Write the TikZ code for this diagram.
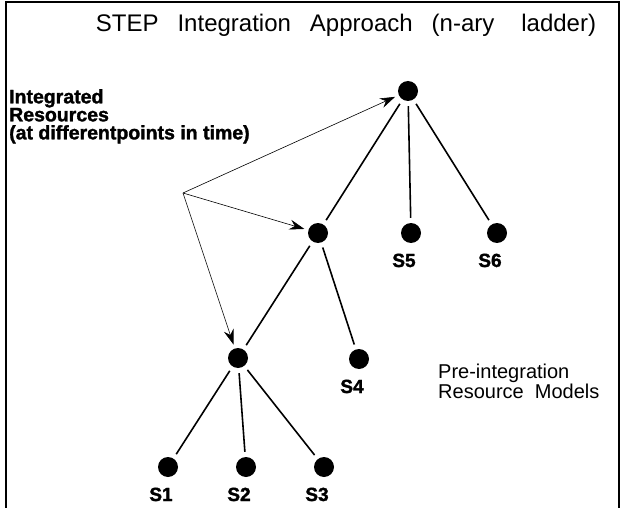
\documentclass[tikz,border=0pt]{standalone}
\usepackage{fontspec}
\setmainfont{Liberation Sans}
\newfontfamily\heavyfont[BoldFeatures={FakeBold=1.6}]{Liberation Sans}
\usetikzlibrary{arrows.meta}

\tikzset{
    dot/.style={circle, fill=black, inner sep=0pt, minimum size=20pt},
    branch/.style={line width=1.6pt, shorten <=5pt, shorten >=5pt},
    pointer/.style={line width=0.6pt, -{Stealth[length=15pt, width=10pt, inset=5pt]}, shorten >=4pt},
    slabel/.style={font=\heavyfont\bfseries\fontsize{19}{19}\selectfont, xshift=-7pt, label distance=7pt},
}
\newcommand{\gap}[1]{\hspace*{#1pt}}

\begin{document}
\begin{tikzpicture}[x=1pt, y=-1pt]
        \useasboundingbox (0,0) rectangle (624,508);
        \draw[line width=1.4pt] (6,508) -- (6,2) -- (619,2) -- (619,508);

        \node (title) at (346,25) {\fontsize{24}{24}\selectfont STEP\gap{19}Integration\gap{19}Approach\gap{19}(n-ary\gap{27}ladder)};

        % integrated resources
        \node (top) [dot] at (408,91) {};
        \node (mid) [dot] at (318,233) {};
        \node (low) [dot] at (238,358) {};

        % pre-integration models
        \node (s1) [dot, label={[slabel]below:S1}] at (168,467) {};
        \node (s2) [dot, label={[slabel]below:S2}] at (246,467) {};
        \node (s3) [dot, label={[slabel]below:S3}] at (324,467) {};
        \node (s4) [dot, label={[slabel]below:S4}] at (359,359) {};
        \node (s5) [dot, label={[slabel]below:S5}] at (411,233) {};
        \node (s6) [dot, label={[slabel]below:S6}] at (497,233) {};

        \draw[branch] (top) -- (mid);
        \draw[branch] (top) -- (s5);
        \draw[branch] (top) -- (s6);
        \draw[branch] (mid) -- (low);
        \draw[branch] (mid) -- (s4);
        \draw[branch] (low) -- (s1);
        \draw[branch] (low) -- (s2);
        \draw[branch] (low) -- (s3);

        \node (intlabel) [anchor=north west, align=left, font=\heavyfont\bfseries\fontsize{19.5}{18}\selectfont, inner sep=0pt] at (9,89)
            {Integrated\\Resources\\(at differentpoints in time)};
        \node (prelabel) [anchor=north west, align=left, font=\fontsize{20}{20}\selectfont, inner sep=0pt] at (438,364)
            {Pre-integration\\Resource\ \ Models};

        \coordinate (src) at (183,193);
        \draw[pointer] (src) -- (top);
        \draw[pointer] (src) -- (mid);
        \draw[pointer] (src) -- (low);
\end{tikzpicture}
\end{document}
